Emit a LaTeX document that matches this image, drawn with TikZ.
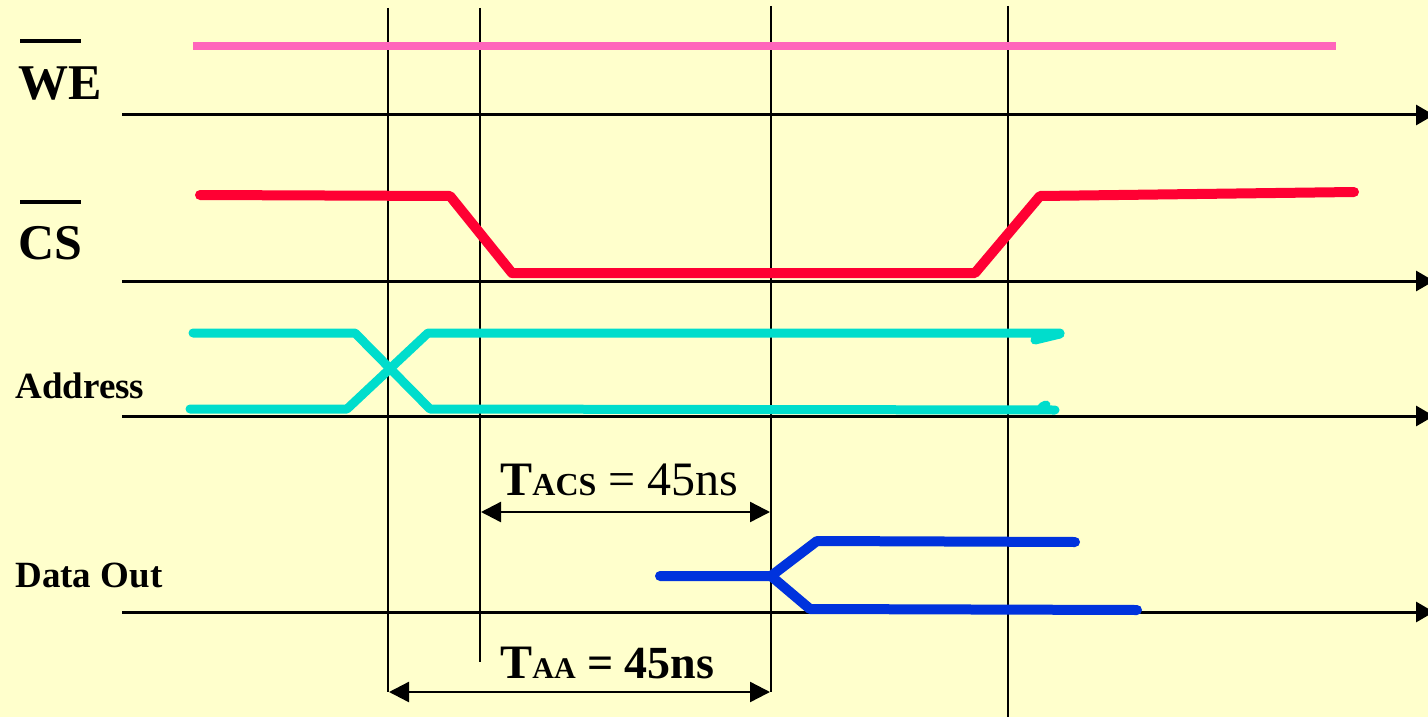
\documentclass[tikz,border=0pt]{standalone}
\usepackage{fontspec}
\setmainfont{Liberation Serif}
\usetikzlibrary{arrows.meta}

\definecolor{bgyellow}{RGB}{255,255,204}
\definecolor{wepink}{RGB}{255,102,187}
\definecolor{csred}{RGB}{255,0,51}
\definecolor{addrcyan}{RGB}{0,221,204}
\definecolor{datablue}{RGB}{0,51,221}

\begin{document}
\begin{tikzpicture}[x=0.5pt, y=-0.5pt,
    axis/.style={line width=1.5pt, -{Triangle[length=9pt,width=10pt]}},
    marker/.style={line width=1pt},
    bar/.style={line width=2pt},
    wave/.style={line width=4.5pt, line cap=round, line join=round},
    siglabel/.style={anchor=base west, inner sep=0pt, font=\bfseries\fontsize{18.5}{20}\selectfont},
    biglabel/.style={anchor=base west, inner sep=0pt, font=\bfseries\fontsize{25}{27}\selectfont},
    dimlabel/.style={anchor=base west, inner sep=0pt},
    dim/.style={line width=1.2pt, {Triangle[length=10pt,width=10pt]}-{Triangle[length=10pt,width=10pt]}}]

    % background
    \fill[bgyellow] (0,0) rectangle (1428,717);
    \useasboundingbox (0,0) rectangle (1428,717);

    % Labels
    \node (we) [biglabel] at (18,100) {WE};
    \node (cs) [biglabel] at (18,259) {CS};
    \node (addr) [siglabel] at (15,398) {Address};
    \node (dout) [siglabel] at (15,587) {Data Out};
    \draw[bar] (20,41) -- (81,41);
    \draw[bar] (20,202) -- (81,202);

    % Axes
    \coordinate (weaxis) at (122,115);
    \coordinate (csaxis) at (122,281);
    \coordinate (addraxis) at (122,416);
    \coordinate (daxis) at (122,612);
    \draw[axis] (weaxis) -- ++(1312,0);
    \draw[axis] (csaxis) -- ++(1312,0);
    \draw[axis] (addraxis) -- ++(1312,0);
    \draw[axis] (daxis) -- ++(1312,0);

    % Time markers
    \coordinate (t1) at (388,692);
    \coordinate (t2) at (480,662);
    \coordinate (t3) at (771,692);
    \coordinate (t4) at (1008,717);
    \draw[marker] (388,8) -- (t1);
    \draw[marker] (480,8) -- (t2);
    \draw[marker] (771,6) -- (t3);
    \draw[marker] (1008,6) -- (t4);

    % Waveforms
    \draw[wave, wepink, line width=4pt, line cap=butt] (193,46) -- (1336,46);
    \draw[wave, csred, line width=5pt] (200,195) -- (450,196) -- (512,273) -- (975,273) -- (1040,196) -- (1354,192);
    \draw[wave, addrcyan] (193,333) -- (355,333) -- (430,409) -- (1055,410);
    \draw[wave, addrcyan] (190,409) -- (347,409) -- (428,333) -- (1060,333);
    \draw[wave, addrcyan] (1035,340) -- (1060,334);
    \draw[wave, addrcyan] (1042,407) -- (1046,405);
    \draw[wave, datablue, line width=5pt] (660,576) -- (771,576) -- (817,541) -- (1075,542);
    \draw[wave, datablue, line width=5pt] (771,576) -- (810,609) -- (1137,610);

    % Timing
    \coordinate (acsL) at (481,512);
    \coordinate (acsR) at (770,512);
    \coordinate (aaL) at (389,692);
    \coordinate (aaR) at (770,692);
    \draw[dim] (acsL) -- (acsR);
    \draw[dim] (aaL) -- (aaR);
    \node (tacs) [dimlabel] at (500,495) {{\bfseries\fontsize{24}{26}\selectfont T\fontsize{16}{18}\selectfont ACS}\fontsize{24}{26}\selectfont{} = 45ns};
    \node (taa) [dimlabel] at (500,678) {\bfseries\fontsize{24}{26}\selectfont T\fontsize{15}{17}\selectfont AA\fontsize{23}{25}\selectfont{} = 45ns};
\end{tikzpicture}
\end{document}
